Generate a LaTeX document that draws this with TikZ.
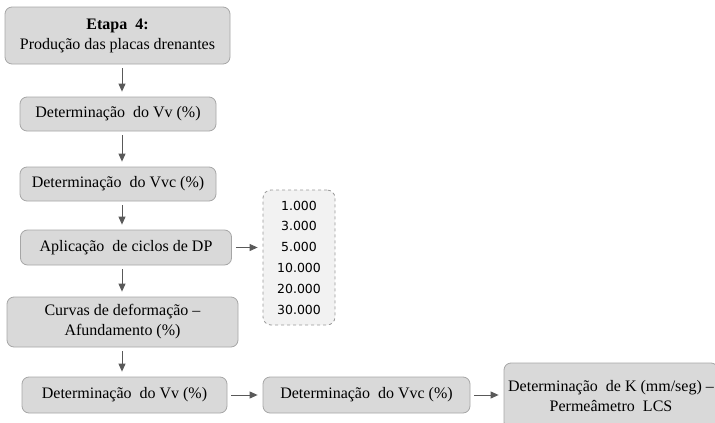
\documentclass[tikz,border=0pt]{standalone}
\usepackage{fontspec}
\setmainfont{Liberation Serif}
\newfontfamily\numfont{DejaVu Sans}
\usetikzlibrary{arrows.meta}

\begin{document}
\begin{tikzpicture}[x=1pt,y=-1pt,
        caixa/.style={draw=gray!70,fill=gray!30,rounded corners=7pt,line width=0.8pt,align=center,inner sep=0pt,font=\fontsize{16}{20}\selectfont},
        lista/.style={draw=gray!80,fill=gray!10,dashed,rounded corners=8pt,line width=0.8pt,align=center,inner sep=0pt,font=\numfont\fontsize{12.5}{20.8}\selectfont},
        seta/.style={-{Triangle[length=8pt,width=7pt]},draw=black!65,line width=1pt,shorten <=4pt,shorten >=5pt}]
        \useasboundingbox (0,0) rectangle (715,423);
        \clip (0,0) rectangle (715,423);
        \coordinate (eixo) at (122,0);
        \node[caixa,minimum width=225pt,minimum height=57pt] (etapa) at (117.5,35.5) {\textbf{Etapa\ \ 4:}\\Produção das placas drenantes};
        \node[caixa,minimum width=196pt,minimum height=34pt] (vv1) at (118,114) {Determinação\ \ do Vv (\%)};
        \node[caixa,minimum width=196pt,minimum height=34pt] (vvc1) at (118,184) {Determinação\ \ do Vvc (\%)};
        \node[caixa,minimum width=211pt,minimum height=35pt] (aplic) at (126,247.5) {Aplicação\ \ de ciclos de DP};
        \node[caixa,minimum width=231pt,minimum height=50pt] (curvas) at (122.5,322) {Curvas de deformação --\\Afundamento (\%)};
        \node[caixa,minimum width=205pt,minimum height=36pt] (vv2) at (124.5,395) {Determinação\ \ do Vv (\%)};
        \node[caixa,minimum width=207pt,minimum height=36pt] (vvc2) at (366.5,395) {Determinação\ \ do Vvc (\%)};
        \node[caixa,minimum width=214pt,minimum height=66pt] (perm) at (611,396) {Determinação\ \ de K (mm/seg) --\\Permeâmetro\ \ LCS};
        \node[lista,minimum width=72pt,minimum height=135pt] (ciclos) at (299,257.5) {1.000\\3.000\\5.000\\10.000\\20.000\\30.000};
        \draw[seta] (etapa.south -| eixo) -- (vv1.north -| eixo);
        \draw[seta] (vv1.south -| eixo) -- (vvc1.north -| eixo);
        \draw[seta] (vvc1.south -| eixo) -- (aplic.north -| eixo);
        \draw[seta] (aplic.south -| eixo) -- (curvas.north -| eixo);
        \draw[seta] (curvas.south -| eixo) -- (vv2.north -| eixo);
        \draw[seta] (aplic.east) -- (ciclos.west |- aplic.east);
        \draw[seta] (vv2.east) -- (vvc2.west);
        \draw[seta] (vvc2.east) -- (perm.west |- vvc2.east);
    \end{tikzpicture}
\end{document}
